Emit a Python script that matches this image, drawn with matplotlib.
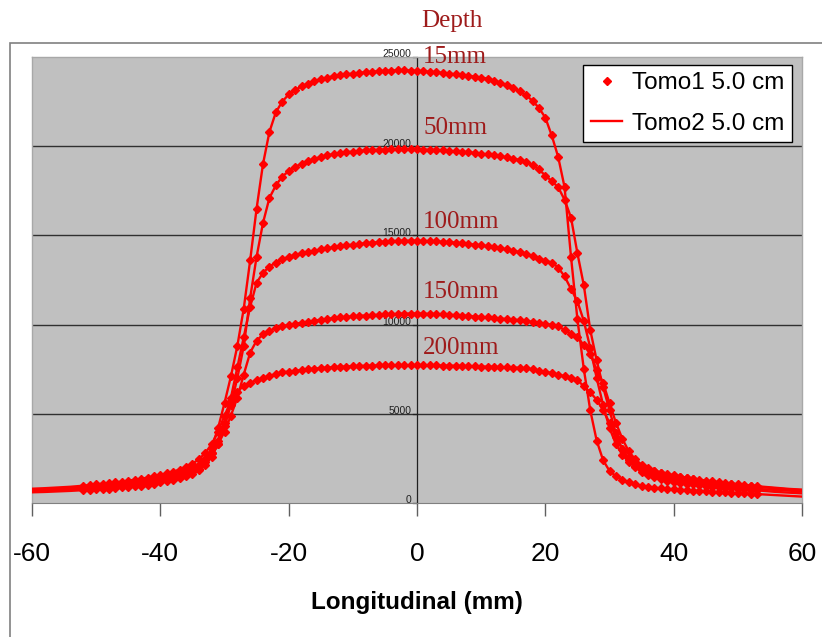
"""
Longitudinal dose profiles of a 5.0 cm Tomo field at five depths,
two measurement sets (Tomo1 markers, Tomo2 line), Excel-style look.
"""

import numpy as np
import matplotlib.pyplot as plt
from matplotlib.patches import Rectangle

# positions along the couch (mm), 1 mm steps
x_mm = list(range(-60, 61))

depth_labels = ["15mm", "50mm", "100mm", "150mm", "200mm"]

dose_15 = [
    750, 760, 775, 790, 805, 820, 840, 860, 880, 900,
    920, 945, 970, 1000, 1030, 1060, 1100, 1140, 1190, 1240,
    1300, 1370, 1450, 1540, 1650, 1800, 2050, 2450, 3100, 4200,
    5600, 7100, 8800, 10900, 13600, 16500, 19000, 20800, 21900, 22500,
    22900, 23150, 23350, 23500, 23650, 23760, 23850, 23920, 23980, 24030,
    24070, 24110, 24140, 24170, 24200, 24220, 24240, 24250, 24250, 24240,
    24220, 24200, 24170, 24140, 24110, 24070, 24030, 23990, 23940, 23900,
    23850, 23780, 23680, 23560, 23420, 23260, 23080, 22850, 22550, 22150,
    21600, 20600, 19400, 17700, 13800, 10300, 7500, 5200, 3500, 2400,
    1800, 1500, 1300, 1150, 1050, 970, 910, 860, 820, 790,
    760, 740, 720, 700, 680, 660, 640, 620, 600, 580,
    560, 540, 520, 500, 480, 460, 440, 420, 400, 380, 360,
]

dose_50 = [
    600, 610, 620, 635, 650, 665, 680, 700, 720, 740,
    760, 785, 810, 840, 870, 900, 940, 980, 1030, 1090,
    1150, 1220, 1300, 1390, 1500, 1650, 1850, 2150, 2600, 3300,
    4300, 5500, 7000, 8800, 11500, 13800, 15700, 17100, 17800, 18300,
    18600, 18850, 19000, 19150, 19280, 19400, 19480, 19550, 19610, 19660,
    19700, 19730, 19760, 19780, 19800, 19810, 19820, 19830, 19830, 19830,
    19820, 19810, 19800, 19780, 19760, 19740, 19710, 19680, 19650, 19620,
    19580, 19540, 19490, 19430, 19370, 19300, 19230, 19120, 18950, 18700,
    18350, 18050, 17700, 17000, 16000, 14000, 12200, 9700, 8000, 6500,
    5200, 3900, 3000, 2400, 2000, 1750, 1550, 1430, 1330, 1250,
    1180, 1130, 1080, 1040, 1000, 960, 920, 890, 860, 830,
    800, 770, 740, 710, 680, 650, 620, 600, 580, 560, 540,
]

dose_100 = [
    680, 690, 700, 715, 730, 745, 760, 780, 800, 820,
    840, 865, 890, 920, 950, 985, 1020, 1070, 1120, 1180,
    1250, 1320, 1400, 1490, 1600, 1740, 1920, 2300, 2800, 3500,
    4500, 5900, 7600, 9300, 11000, 12350, 12900, 13250, 13480, 13650,
    13800, 13900, 13990, 14060, 14130, 14210, 14270, 14330, 14390, 14440,
    14480, 14520, 14560, 14590, 14620, 14650, 14670, 14690, 14700, 14700,
    14700, 14690, 14680, 14660, 14640, 14620, 14590, 14560, 14520, 14480,
    14440, 14390, 14330, 14270, 14210, 14150, 14050, 13950, 13850, 13700,
    13580, 13480, 13200, 12700, 12000, 11300, 10200, 8700, 7000, 5500,
    4200, 3300, 2700, 2300, 2050, 1850, 1700, 1590, 1480, 1400,
    1320, 1260, 1200, 1150, 1100, 1050, 1010, 970, 940, 910,
    880, 850, 820, 800, 770, 750, 730, 710, 690, 670, 650,
]

dose_150 = [
    730, 740, 755, 770, 790, 810, 830, 850, 870, 900,
    950, 980, 1010, 1040, 1080, 1120, 1160, 1210, 1260, 1330,
    1400, 1480, 1570, 1680, 1800, 1950, 2150, 2400, 2800, 3300,
    4000, 4900, 5900, 7200, 8430, 9100, 9450, 9650, 9800, 9900,
    9980, 10040, 10100, 10160, 10220, 10280, 10320, 10360, 10400, 10430,
    10460, 10490, 10510, 10530, 10550, 10570, 10580, 10600, 10610, 10620,
    10620, 10610, 10600, 10590, 10570, 10550, 10530, 10510, 10480, 10450,
    10430, 10400, 10370, 10340, 10310, 10280, 10250, 10200, 10150, 10100,
    10050, 9980, 9900, 9700, 9480, 9300, 8850, 8350, 7470, 6740,
    5600, 4500, 3600, 2900, 2450, 2150, 1950, 1800, 1680, 1590,
    1500, 1440, 1380, 1320, 1260, 1200, 1160, 1120, 1080, 1040,
    1000, 970, 940, 910, 880, 850, 820, 790, 760, 740, 720,
]

dose_200 = [
    800, 815, 830, 850, 870, 890, 910, 940, 970, 1000,
    1050, 1080, 1110, 1150, 1200, 1250, 1300, 1360, 1420, 1490,
    1570, 1660, 1750, 1870, 2000, 2200, 2450, 2800, 3300, 4000,
    4900, 5700, 6250, 6560, 6750, 6870, 7000, 7120, 7230, 7320,
    7370, 7410, 7450, 7490, 7530, 7560, 7590, 7610, 7630, 7650,
    7670, 7680, 7690, 7700, 7710, 7720, 7720, 7720, 7720, 7720,
    7720, 7720, 7710, 7710, 7700, 7700, 7690, 7680, 7670, 7660,
    7650, 7640, 7630, 7610, 7600, 7590, 7580, 7540, 7490, 7420,
    7350, 7280, 7200, 7100, 7000, 6880, 6550, 6200, 5790, 5200,
    4500, 3700, 3000, 2550, 2250, 2050, 1900, 1800, 1700, 1620,
    1550, 1480, 1420, 1370, 1310, 1250, 1210, 1170, 1130, 1090,
    1050, 1010, 980, 950, 910, 880, 850, 820, 790, 770, 750,
]

# Tomo1 scan covered a shorter range than Tomo2
tomo1_range = (-52, 53)

x_ticks = [-60, -40, -20, 0, 20, 40, 60]
y_ticks = [0, 5000, 10000, 15000, 20000, 25000]

RED = "#FF0000"
DARK_RED = "#9E1B1B"

fig = plt.figure(figsize=(8.22, 6.37), dpi=100)

# outer chart frame (Excel chart area)
fig.patches.append(Rectangle((10 / 822, -0.01), 1.0, 1 - 43 / 637 + 0.01,
                             transform=fig.transFigure, fill=False,
                             edgecolor="#808080", linewidth=1.2))

ax = fig.add_axes([32 / 822, 1 - 503 / 637, 770 / 822, 446 / 637])
ax.set_facecolor("#C0C0C0")

x = np.array(x_mm)
mask = (x >= tomo1_range[0]) & (x <= tomo1_range[1])
profiles = [dose_15, dose_50, dose_100, dose_150, dose_200]
for i, prof in enumerate(profiles):
    y = np.array(prof)
    ax.plot(x[mask], y[mask], linestyle="none", marker="D", markersize=4.2,
            color=RED, label="Tomo1 5.0 cm" if i == 0 else None, zorder=3)
    ax.plot(x, y, color=RED, linewidth=1.7,
            label="Tomo2 5.0 cm" if i == 0 else None, zorder=3)

ax.set_xlim(-60, 60)
ax.set_ylim(0, 25000)

for yv in y_ticks[1:-1]:
    ax.axhline(yv, color="#303030", linewidth=1.0, zorder=1)

for side in ["top", "right", "left"]:
    ax.spines[side].set_color("#A8A8A8")
    ax.spines[side].set_linewidth(1.0)
ax.spines["bottom"].set_color("#808080")

ax.set_xticks(x_ticks)
ax.set_xticklabels([str(v) for v in x_ticks], fontsize=19, family="Liberation Sans")
ax.tick_params(axis="x", direction="out", length=9, width=1, color="#606060", pad=19)
ax.set_yticks([])

# vertical value axis drawn at x = 0
ax.axvline(0, color="#202020", linewidth=0.9, zorder=2)
for yv in y_ticks:
    ax.plot([-0.7, 0], [yv, yv], color="#202020", linewidth=0.9, zorder=2, clip_on=False)
    ax.text(-0.9, yv + 150, str(yv), ha="right", va="center", fontsize=7.5,
            family="Liberation Sans", color="#202020", zorder=2)

ax.set_xlabel("Longitudinal (mm)", fontsize=17.5, fontweight="bold",
              family="Liberation Sans", labelpad=18)

# depth annotations
fig.text(452 / 822, 1 - 21 / 637, "Depth", ha="center", va="center",
         fontsize=18, family="Liberation Serif", color=DARK_RED)
label_y = [57, 128, 222, 292, 348]
for lab, ly in zip(depth_labels, label_y):
    fig.text(423 / 822, 1 - ly / 637, lab, ha="left", va="center",
             fontsize=18, family="Liberation Serif", color=DARK_RED, zorder=5)

leg = ax.legend(loc="upper right", bbox_to_anchor=(0.993, 0.993),
                prop={"family": "Liberation Sans", "size": 17.5},
                frameon=True, fancybox=False, edgecolor="black",
                borderpad=0.3, handlelength=1.3, handletextpad=0.4,
                labelspacing=0.75, borderaxespad=0.2)
leg.get_frame().set_linewidth(1.0)
leg.get_frame().set_facecolor("white")
leg.get_frame().set_alpha(1.0)

fig.savefig("out.png", dpi=100)
